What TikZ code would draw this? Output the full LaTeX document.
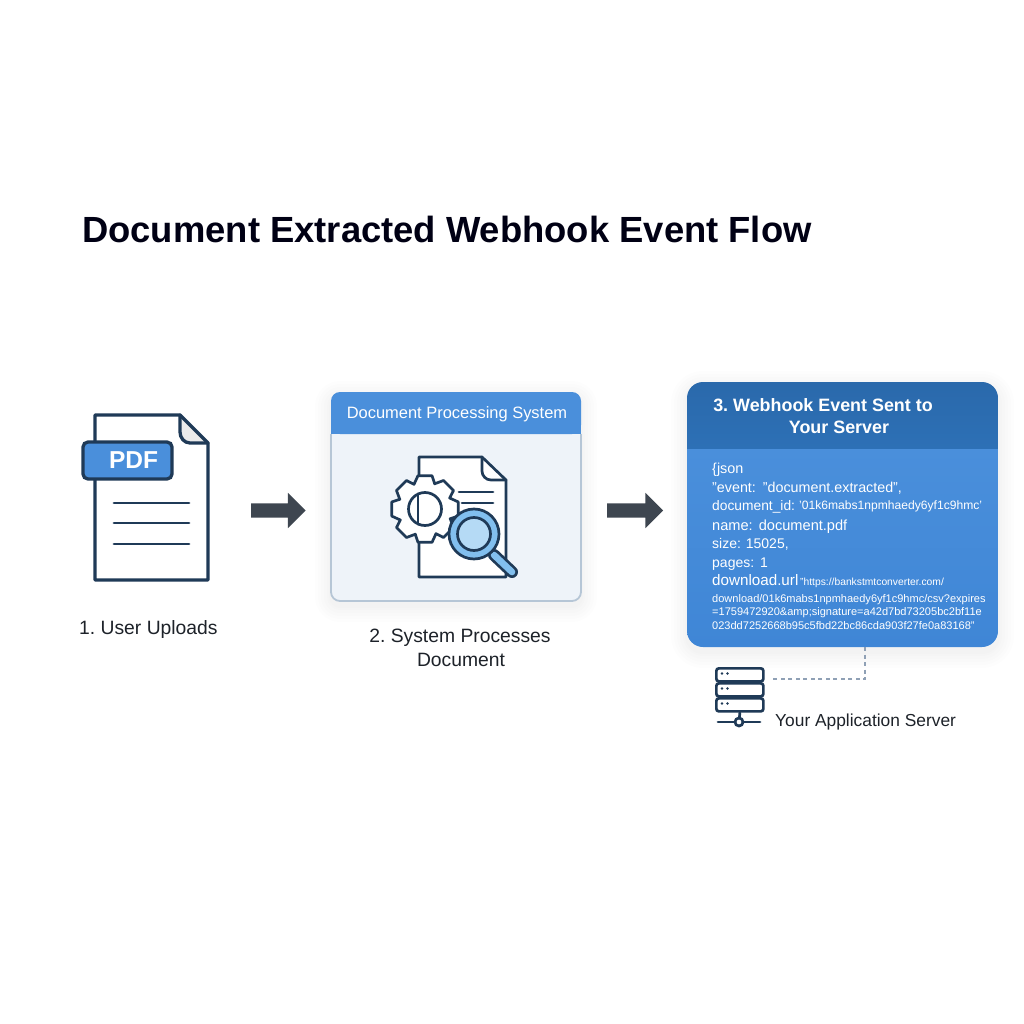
\documentclass[tikz,border=0pt]{standalone}
\usepackage{fontspec}
\setmainfont{Liberation Sans}[Ligatures=ResetAll]
\usetikzlibrary{shapes.arrows,calc}
\definecolor{ink}{HTML}{1F3A57}
\definecolor{blueA}{HTML}{4A8FDB}
\definecolor{blueB}{HTML}{3F86D6}
\definecolor{blueDark}{HTML}{2A69AB}
\definecolor{blueDarkB}{HTML}{2D70B6}
\definecolor{pale}{HTML}{EEF3F9}
\definecolor{paleB}{HTML}{B6C6D6}
\definecolor{arrowc}{HTML}{3E4650}
\definecolor{lens}{HTML}{B5DAF5}
\definecolor{lensB}{HTML}{82BFEE}
\definecolor{dashc}{HTML}{8FA0B5}
\definecolor{txt}{HTML}{1D2229}
\newcommand{\fs}[1]{\fontsize{#1}{#1}\selectfont}
\newcommand{\softshadow}[5]{% x1 y1 x2 y2 radius
  \foreach \g in {16,13,10,7,4,2}{
    \fill[black,opacity=0.009,rounded corners={#5+\g}]
      (#1-\g,#2-\g+5) rectangle (#3+\g,#4+\g+5);}}
\tikzset{
  x=1pt,y=-1pt,
  icon/.style={draw=ink,line width=3.3pt,line join=round,line cap=round},
  thin icon/.style={icon,line width=2.7pt},
  label/.style={inner sep=0pt,anchor=base,text=txt,font=\fs{19.3}},
  code/.style={inner sep=0pt,anchor=base west,text=white},
  flow arrow/.style={single arrow,fill=arrowc,draw=none,inner sep=0pt,
    minimum width=35pt,single arrow head extend=10.5pt,single arrow tip angle=90,shape border rotate=0},
  bare/.style={inner sep=0pt,minimum size=0pt}
}
\begin{document}
\frenchspacing
\begin{tikzpicture}
\useasboundingbox (0,0) rectangle (1024,1024);
\fill[white] (0,0) rectangle (1024,1024);
% title
\node[inner sep=0pt,anchor=base west,text=black!92!blue,font=\bfseries\fs{36.4}] (title) at (82,243) {Document Extracted Webhook Event Flow};
% --- PDF icon
\fill[white] (95,415) -- (180,415) -- (208,443) -- (208,580) -- (95,580) -- cycle;
\fill[black!8] (180,415) -- (208,443) -- (189,443) to[out=180,in=90] (180,434) -- cycle;
\draw[icon] (95,415) -- (180,415) -- (208,443) -- (208,580) -- (95,580) -- cycle;
\draw[icon] (180,415) -- (180,432) to[out=-90,in=180] (190,443) -- (208,443);
\node[draw=ink,line width=3.3pt,fill=blueA,rounded corners=5pt,minimum width=89pt,minimum height=37pt,inner sep=0pt,
  text=white,font=\bfseries\fs{24.5}] (pdf) at (127.5,460.5) {\hspace{12pt}PDF};
\foreach \y in {503,523,544}{\draw[thin icon] (114,\y) -- (189,\y);}
\node[label,anchor=base west] (l1) at (79,634) {1. User Uploads};
% --- arrows
\node[flow arrow,minimum height=54.5pt] (a1) at (274.7,510.5) {\rule{0pt}{14pt}};
\node[flow arrow,minimum height=56pt] (a2) at (631.5,510.5) {\rule{0pt}{14pt}};
% --- middle card
\softshadow{331}{392}{581}{601}{9}
\fill[pale,rounded corners=9pt] (331,392) rectangle (581,601);
\fill[blueA,rounded corners=9pt] (331,434) -- (331,392) -- (581,392) -- (581,434) -- cycle;
\fill[blueA] (331,425) rectangle (581,434);
\draw[paleB,line width=1.8pt,rounded corners=9pt] (331,434) -- (331,601) -- (581,601) -- (581,434);
\node[inner sep=0pt,anchor=base,text=white,font=\fs{16.45}] (sys) at (457,418.5) {Document Processing System};
% doc in card
\fill[white] (419,457) -- (482,457) -- (506,480) -- (506,577) -- (419,577) -- cycle;
\draw[thin icon] (419,457) -- (482,457) -- (506,480) -- (506,577) -- (419,577) -- cycle;
\draw[thin icon] (482,457) -- (482,471) to[out=-90,in=180] (491,480) -- (506,480);
\draw[thin icon] (459,492) -- (493,492);
\draw[thin icon] (462,503) -- (493,503);
% gear
\draw[thin icon,fill=white]
  \foreach \k [count=\i from 0] in {0,45,...,315}{
    \ifnum\i=0 ($(425,509)+(\k-24:27)$) \else -- ($(425,509)+(\k-24:27)$) \fi
    -- ($(425,509)+(\k-12:34)$) -- ($(425,509)+(\k+12:34)$) -- ($(425,509)+(\k+21:27)$)
  } -- cycle;
\draw[thin icon,fill=white] (425,509) circle (16.5);
\draw[thin icon] (418,494) -- (418,524);
% magnifier
\draw[draw=ink,line width=12pt,line cap=round] (494,555) -- (512,572);
\draw[draw=lensB,line width=6.6pt,line cap=round] (494,555) -- (512,572);
\fill[lensB] (474,534) circle (25);
\draw[thin icon] (474,534) circle (25);
\fill[lens] (474,534) circle (16.5);
\draw[thin icon] (474,534) circle (16.5);
\node[label] (l2a) at (460,642) {2. System Processes};
\node[label] (l2b) at (461,666) {Document};
% --- right card
\softshadow{687}{382}{998}{647}{16}
\begin{scope}
\clip[rounded corners=16pt] (687,382) rectangle (998,647);
\shade[top color=blueA,bottom color=blueB] (687,448) rectangle (998,647);
\shade[top color=blueDark,bottom color=blueDarkB] (687,382) rectangle (998,448);
\end{scope}
\node[bare,minimum width=311pt,minimum height=265pt] (card) at (842.5,514.5) {};
\node[inner sep=0pt,anchor=base,text=white,font=\bfseries\fs{17.9}] (h1) at (823,411) {3. Webhook Event Sent to};
\node[inner sep=0pt,anchor=base,text=white,font=\bfseries\fs{17.9}] (h2) at (839,433) {Your Server};
\node[code,font=\fs{14.4}] (c1) at (712,473) {\{json};
\node[code,font=\fs{14.3}] (c2) at (712,492) {"event:\hspace{3pt} "document.extracted",};
\node[code,font=\fs{13.8}] (c3a) at (712,510) {document\_id:};
\node[code,font=\fs{12.1}] (c3b) at (799,509) {'01k6mabs1npmhaedy6yf1c9hmc'};
\node[code,font=\fs{14.6}] (c4) at (712,530) {name:\hspace{2pt} document.pdf};
\node[code,font=\fs{14}] (c5) at (712,548) {size:\hspace{1pt} 15025,};
\node[code,font=\fs{14}] (c6) at (712,567) {pages:\hspace{2pt} 1};
\node[code,font=\fs{15.2}] (c7a) at (712,585) {download.url};
\node[code,font=\fs{10.3}] (c7b) at (800,585) {"https://bankstmtconverter.com/};
\node[code,font=\fs{11.03}] (c8) at (712,602) {download/01k6mabs1npmhaedy6yf1c9hmc/csv?expires};
\node[code,font=\fs{11.03}] (c9) at (712,615.5) {=1759472920\&amp;signature=a42d7bd73205bc2bf11e};
\node[code,font=\fs{11.03}] (c10) at (712,629.5) {023dd7252668b95c5fbd22bc86cda903f27fe0a83168"};
% --- server icon
\foreach \y/\n in {667/s1,682/s2,697/s3}{
  \node[draw=ink,line width=2.7pt,fill=white,rounded corners=2.5pt,minimum width=47pt,minimum height=13pt,inner sep=0pt,anchor=north west] (\n) at (715,\y) {};
  \fill[ink] (722,\y+6.5) circle (1.3) (727.5,\y+6.5) circle (1.3);
}
\coordinate (hub) at (739,722);
\draw[thin icon] (s3.south) -- (hub);
\draw[thin icon] (718,722) -- (760,722);
\node[draw=ink,line width=2.7pt,fill=white,circle,minimum size=8pt,inner sep=0pt] (hubn) at (hub) {};
\node[label,anchor=base west,font=\fs{17.36}] (srv) at (775,726) {Your Application Server};
% connector
\coordinate (port) at (773,679);
\coordinate (tap) at (865,647);
\draw[dashc,line width=1.6pt,dash pattern=on 4pt off 3.5pt] (tap) |- (port);
\end{tikzpicture}
\end{document}
